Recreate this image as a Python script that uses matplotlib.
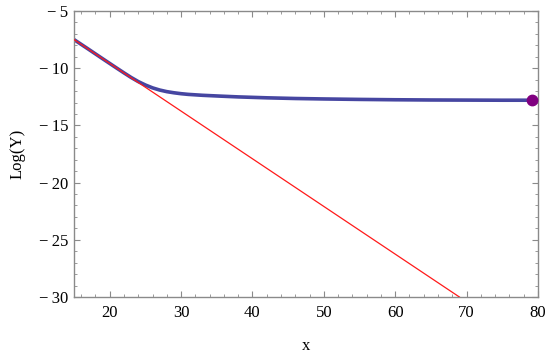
import matplotlib.pyplot as plt
from matplotlib.ticker import MultipleLocator, FuncFormatter

# straight reference line (red)
red_x = [15, 69]
red_y = [-7.5, -30.0]

# thick curve (blue)
blue_x = [15, 17, 19, 21, 22, 23, 24, 25, 26, 27, 28, 29, 30, 31, 33, 35.4, 38, 42, 46, 50, 55, 60, 65, 70, 75, 79.2]
blue_y = [-7.5, -8.33, -9.17, -10.0, -10.41, -10.81, -11.17, -11.47, -11.72, -11.91, -12.05, -12.15, -12.23,
          -12.29, -12.37, -12.44, -12.51, -12.59, -12.65, -12.69, -12.73, -12.76, -12.78, -12.79, -12.8, -12.8]

end_x = [79.2]
end_y = [-12.8]

plt.rcParams["font.family"] = ["Liberation Serif", "DejaVu Serif"]
plt.rcParams["font.size"] = 12

fig = plt.figure(figsize=(5.49, 3.54), dpi=100)
ax = fig.add_axes([0.1348, 0.161, 0.845, 0.808])

ax.plot(blue_x, blue_y, color="#3c3c9c", lw=2.6, alpha=0.95, solid_capstyle="butt", zorder=2)
ax.plot(red_x, red_y, color="#ff1a1a", lw=0.9, zorder=3)
ax.plot(end_x, end_y, "o", color="#800080", ms=7.5, zorder=4, clip_on=False)

ax.set_xlim(15, 80)
ax.set_ylim(-30, -5)
ax.xaxis.set_major_locator(MultipleLocator(10))
ax.xaxis.set_minor_locator(MultipleLocator(2))
ax.yaxis.set_major_locator(MultipleLocator(5))
ax.yaxis.set_minor_locator(MultipleLocator(1))
ax.yaxis.set_major_formatter(FuncFormatter(
    lambda v, p: f"\u2212\u2009{abs(int(v))}" if v < 0 else f"{int(v)}"))

gray = "#8a8a8a"
for s in ax.spines.values():
    s.set_color(gray)
    s.set_linewidth(1.0)
ax.tick_params(which="both", direction="in", top=True, right=True, color=gray, labelcolor="black")
ax.tick_params(which="major", length=4.5, width=0.8, labelsize=12)
ax.tick_params(which="minor", length=2.3, width=0.6)
ax.tick_params(axis="x", which="major", pad=6)
ax.tick_params(axis="y", which="major", pad=4)

ax.set_xlabel("x", fontsize=12, labelpad=12)
ax.set_ylabel("Log(Y)", fontsize=12, labelpad=10)

fig.savefig("out.png", dpi=100)
